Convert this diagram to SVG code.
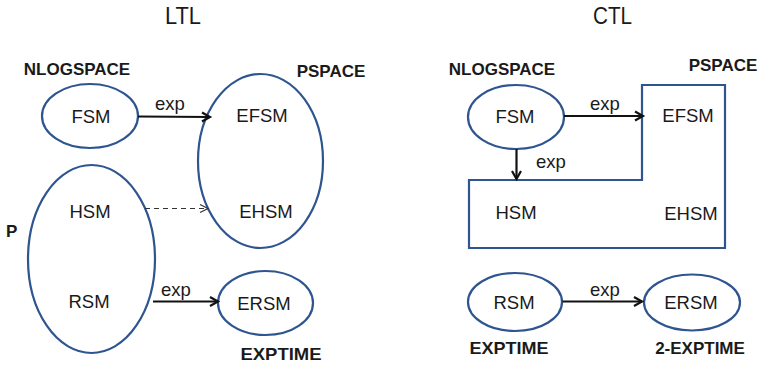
<svg xmlns="http://www.w3.org/2000/svg" width="761" height="367" viewBox="0 0 761 367">
<defs>
<style>
.shape{fill:none;stroke:#2E5590;stroke-width:2.2}
.lbl{font-family:"Liberation Sans",Arial,sans-serif;font-size:18.5px;fill:#1a1a1a}
.cls{font-family:"Liberation Sans",Arial,sans-serif;font-size:17px;font-weight:bold;fill:#1a1a1a}
.ttl{font-family:"Liberation Sans",Arial,sans-serif;font-size:24px;fill:#1a1a1a}
.arr{stroke:#111;stroke-width:2.2;fill:none}
.dash{stroke:#333;stroke-width:1.2;fill:none;stroke-dasharray:5,4}
</style>
<marker id="ah" markerUnits="userSpaceOnUse" markerWidth="12" markerHeight="12" refX="9" refY="6" orient="auto" viewBox="0 0 12 12">
<path d="M1,1.5 L9,6 L1,10.5" fill="none" stroke="#111" stroke-width="2.2"/>
</marker>
<marker id="ahd" markerUnits="userSpaceOnUse" markerWidth="12" markerHeight="12" refX="9" refY="6" orient="auto" viewBox="0 0 12 12">
<path d="M1,2 L9,6 L1,10" fill="none" stroke="#333" stroke-width="1.2"/>
</marker>
</defs>
<rect width="761" height="367" fill="#fff"/>
<text class="ttl" x="165" y="24" textLength="36" lengthAdjust="spacingAndGlyphs">LTL</text>
<text class="ttl" x="593" y="24" textLength="39" lengthAdjust="spacingAndGlyphs">CTL</text>

<g id="ltl-fsm">
<ellipse class="shape" cx="90" cy="116" rx="48" ry="32"/>
<text class="lbl" x="91" y="123" text-anchor="middle">FSM</text>
</g>
<g id="ltl-pspace">
<ellipse class="shape" cx="260.5" cy="161" rx="62.5" ry="87"/>
<text class="lbl" x="262" y="122" text-anchor="middle">EFSM</text>
<text class="lbl" x="266" y="218" text-anchor="middle">EHSM</text>
</g>
<g id="ltl-p">
<ellipse class="shape" cx="91.5" cy="259" rx="63.5" ry="94"/>
<text class="lbl" x="90" y="218" text-anchor="middle">HSM</text>
<text class="lbl" x="89" y="308" text-anchor="middle">RSM</text>
</g>
<g id="ltl-ersm">
<ellipse class="shape" cx="265.5" cy="303" rx="47.5" ry="32"/>
<text class="lbl" x="264" y="310" text-anchor="middle">ERSM</text>
</g>
<g id="ltl-classes">
<text class="cls" x="77" y="75" text-anchor="middle">NLOGSPACE</text>
<text class="cls" x="331" y="77" text-anchor="middle">PSPACE</text>
<text class="cls" x="6" y="237">P</text>
<text class="cls" x="281" y="360" text-anchor="middle" textLength="81" lengthAdjust="spacingAndGlyphs">EXPTIME</text>
</g>

<g id="ctl-fsm">
<ellipse class="shape" cx="516" cy="117" rx="48" ry="32"/>
<text class="lbl" x="515" y="123" text-anchor="middle">FSM</text>
</g>
<g id="ctl-pspace">
<path class="shape" d="M469,180 L642,180 L642,85 L725,85 L725,248 L469,248 Z"/>
<text class="lbl" x="688" y="122" text-anchor="middle">EFSM</text>
<text class="lbl" x="691" y="220" text-anchor="middle">EHSM</text>
<text class="lbl" x="516" y="219" text-anchor="middle">HSM</text>
</g>
<g id="ctl-rsm">
<ellipse class="shape" cx="515" cy="302" rx="47" ry="29"/>
<text class="lbl" x="514" y="309" text-anchor="middle">RSM</text>
</g>
<g id="ctl-ersm">
<ellipse class="shape" cx="692" cy="302.5" rx="48" ry="28"/>
<text class="lbl" x="691" y="309" text-anchor="middle">ERSM</text>
</g>
<g id="ctl-classes">
<text class="cls" x="502" y="75" text-anchor="middle">NLOGSPACE</text>
<text class="cls" x="723" y="71" text-anchor="middle">PSPACE</text>
<text class="cls" x="509" y="354" text-anchor="middle" textLength="79" lengthAdjust="spacingAndGlyphs">EXPTIME</text>
<text class="cls" x="700" y="354" text-anchor="middle">2-EXPTIME</text>
</g>

<g id="connectors">
<line class="arr" x1="138" y1="116.5" x2="210" y2="117" marker-end="url(#ah)"/>
<text class="lbl" x="170" y="110" text-anchor="middle">exp</text>
<line class="dash" x1="145" y1="208.5" x2="208" y2="208.5" marker-end="url(#ahd)"/>
<line class="arr" x1="153" y1="301.5" x2="218" y2="301.5" marker-end="url(#ah)"/>
<text class="lbl" x="176" y="296" text-anchor="middle">exp</text>
<line class="arr" x1="564" y1="116" x2="643" y2="116" marker-end="url(#ah)"/>
<text class="lbl" x="605" y="110" text-anchor="middle">exp</text>
<line class="arr" x1="516.5" y1="149" x2="516.5" y2="179" marker-end="url(#ah)"/>
<text class="lbl" x="551" y="168" text-anchor="middle">exp</text>
<line class="arr" x1="562.5" y1="301.5" x2="642" y2="301.5" marker-end="url(#ah)"/>
<text class="lbl" x="605" y="296" text-anchor="middle">exp</text>
</g>
</svg>
